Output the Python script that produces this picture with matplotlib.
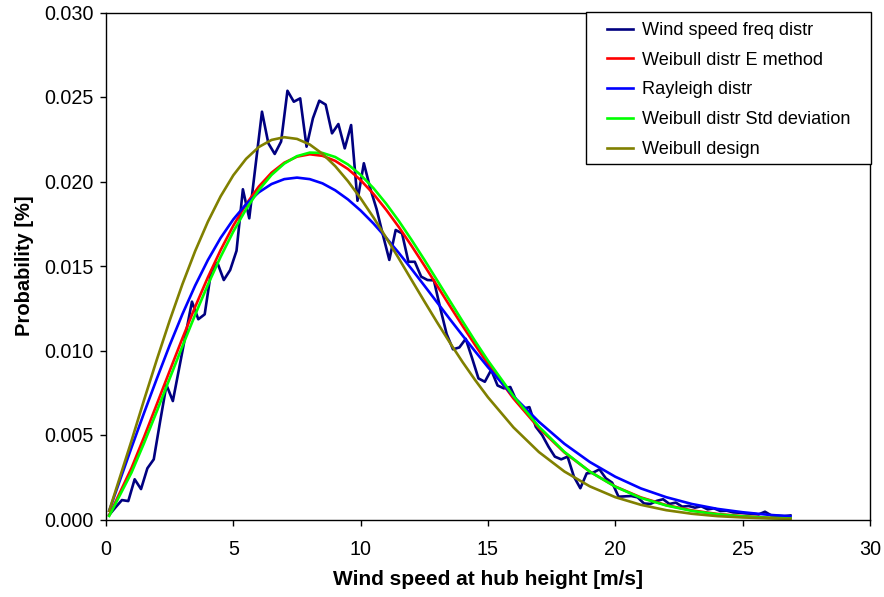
import numpy as np
import matplotlib
matplotlib.use('Agg')
import matplotlib.pyplot as plt
from matplotlib.patches import Rectangle

plt.rcParams['font.family'] = ['Liberation Sans', 'DejaVu Sans']

# Measured frequency distribution, 0.25 m/s bins (bin centres)
bin_width = 0.25
wind_speed = np.arange(0.125, 27.0, bin_width)
freq_distr = [
    0.00027, 0.00072, 0.00115, 0.00109, 0.00238, 0.00180, 0.00303, 0.00356,
    0.00580, 0.00796, 0.00701, 0.00897, 0.01093, 0.01289, 0.01185, 0.01214,
    0.01466, 0.01519, 0.01417, 0.01476, 0.01590, 0.01954, 0.01782, 0.02098,
    0.02413, 0.02226, 0.02163, 0.02236, 0.02537, 0.02472, 0.02492, 0.02206,
    0.02374, 0.02478, 0.02455, 0.02285, 0.02340, 0.02196, 0.02334, 0.01886,
    0.02108, 0.01960, 0.01837, 0.01683, 0.01536, 0.01713, 0.01693, 0.01525,
    0.01525, 0.01437, 0.01417, 0.01415, 0.01251, 0.01098, 0.01007, 0.01018,
    0.01069, 0.00955, 0.00835, 0.00815, 0.00885, 0.00793, 0.00776, 0.00784,
    0.00700, 0.00655, 0.00665, 0.00549, 0.00500, 0.00431, 0.00372, 0.00356,
    0.00372, 0.00253, 0.00185, 0.00273, 0.00277, 0.00297, 0.00244, 0.00218,
    0.00135, 0.00137, 0.00139, 0.00131, 0.00095, 0.00092, 0.00110, 0.00120,
    0.00092, 0.00100, 0.00076, 0.00080, 0.00070, 0.00078, 0.00060, 0.00066,
    0.00050, 0.00052, 0.00042, 0.00040, 0.00036, 0.00034, 0.00030, 0.00046,
    0.00024, 0.00022, 0.00020, 0.00024,
]

# Fitted distributions
curve_speed = [0.125, 1, 1.5, 2, 2.5, 3, 3.5, 4, 4.5, 5, 5.5, 6, 6.5, 7, 7.5,
               8, 8.5, 9, 9.5, 10, 10.5, 11, 11.5, 12, 12.5, 13, 13.5, 14,
               14.5, 15, 16, 17, 18, 19, 20, 21, 22, 23, 24, 25, 26, 26.875]
weibull_e = [0.00025, 0.00304, 0.00490, 0.00684, 0.00879, 0.01072, 0.01258,
             0.01433, 0.01594, 0.01739, 0.01865, 0.01970, 0.02052, 0.02111,
             0.02147, 0.02161, 0.02152, 0.02122, 0.02074, 0.02008, 0.01927,
             0.01833, 0.01730, 0.01619, 0.01503, 0.01384, 0.01264, 0.01146,
             0.01031, 0.00920, 0.00716, 0.00541, 0.00397, 0.00283, 0.00195,
             0.00131, 0.00085, 0.00054, 0.00033, 0.00020, 0.00011, 0.00007]
rayleigh = [0.00052, 0.00425, 0.00633, 0.00835, 0.01031, 0.01215, 0.01384,
            0.01535, 0.01666, 0.01776, 0.01866, 0.01936, 0.01985, 0.02014,
            0.02023, 0.02014, 0.01989, 0.01948, 0.01894, 0.01828, 0.01752,
            0.01667, 0.01577, 0.01482, 0.01384, 0.01285, 0.01186, 0.01089,
            0.00994, 0.00901, 0.00729, 0.00578, 0.00448, 0.00340, 0.00253,
            0.00184, 0.00132, 0.00092, 0.00063, 0.00043, 0.00028, 0.00019]
weibull_std = [0.00021, 0.00277, 0.00454, 0.00642, 0.00834, 0.01025, 0.01211,
               0.01389, 0.01554, 0.01704, 0.01836, 0.01949, 0.02039, 0.02106,
               0.02150, 0.02171, 0.02169, 0.02145, 0.02101, 0.02039, 0.01961,
               0.01869, 0.01766, 0.01654, 0.01537, 0.01416, 0.01294, 0.01173,
               0.01054, 0.00940, 0.00730, 0.00549, 0.00400, 0.00283, 0.00194,
               0.00128, 0.00083, 0.00051, 0.00031, 0.00018, 0.00010, 0.00006]
weibull_design = [0.00051, 0.00465, 0.00710, 0.00948, 0.01177, 0.01392, 0.01588,
                  0.01762, 0.01912, 0.02037, 0.02134, 0.02204, 0.02246, 0.02262,
                  0.02252, 0.02219, 0.02164, 0.02091, 0.02002, 0.01900, 0.01788,
                  0.01668, 0.01544, 0.01417, 0.01291, 0.01167, 0.01047, 0.00932,
                  0.00824, 0.00723, 0.00545, 0.00399, 0.00284, 0.00196, 0.00132,
                  0.00087, 0.00055, 0.00034, 0.00020, 0.00012, 0.00007, 0.00004]

fig = plt.figure(figsize=(8.84, 5.97), dpi=100)
ax = fig.add_axes([106/884, 1 - 519.5/597, 764/884, 507/597])

lw = 1.9
ax.plot(wind_speed, freq_distr, color='#000080', lw=lw, label='Wind speed freq distr')
ax.plot(curve_speed, weibull_e, color='#ff0000', lw=lw, label='Weibull distr E method')
ax.plot(curve_speed, rayleigh, color='#0000ff', lw=lw, label='Rayleigh distr')
ax.plot(curve_speed, weibull_std, color='#00ff00', lw=lw, label='Weibull distr Std deviation')
ax.plot(curve_speed, weibull_design, color='#808000', lw=lw, label='Weibull design')

ax.set_xlim(0, 30)
ax.set_ylim(0, 0.030)
ax.set_xticks(range(0, 31, 5))
ax.set_yticks(np.arange(0, 0.0301, 0.005))
ax.yaxis.set_major_formatter(plt.FormatStrFormatter('%.3f'))
ax.tick_params(direction='out', length=4, width=1, labelsize=14.2, pad=5)
ax.tick_params(axis='x', pad=11)
for sp in ax.spines.values():
    sp.set_linewidth(1)

ax.set_xlabel('Wind speed at hub height [m/s]', fontsize=15, fontweight='bold', labelpad=8)
ax.set_ylabel('Probability [%]', fontsize=14.5, fontweight='bold', labelpad=7)

# legend box
ax.add_patch(Rectangle((586/884, 1 - 164/597), 285/884, 151.7/597,
                       transform=fig.transFigure, facecolor='white',
                       edgecolor='black', lw=1, clip_on=False, zorder=4))
ax.legend(loc='upper left', bbox_to_anchor=(607/884, 1 - 22/597),
          bbox_transform=fig.transFigure, frameon=False, fontsize=13.1,
          borderpad=0, borderaxespad=0, handlelength=1.45, handletextpad=0.45,
          labelspacing=0.70)

fig.savefig('out.png', dpi=100)
